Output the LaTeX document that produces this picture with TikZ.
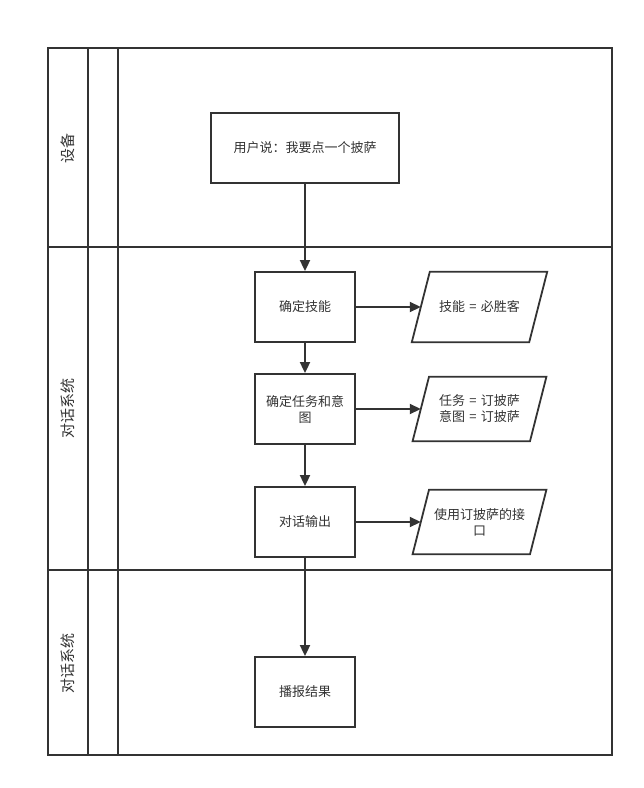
\documentclass[tikz,border=0pt]{standalone}
\usepackage{fontspec}
\setmainfont{Noto Sans CJK SC}
\usetikzlibrary{arrows.meta,calc}
\definecolor{ink}{HTML}{333333}
\tikzset{
  lane/.style={draw=ink,line width=1.8pt},
  lanelabel/.style={rotate=90,text=ink,font=\fontsize{15}{17}\selectfont},
  procbox/.style={draw=ink,line width=1.8pt,minimum width=100pt,minimum height=70pt,inner sep=2pt,text=ink,align=center,text width=94pt,font=\fontsize{13}{16}\selectfont},
  databox/.style={minimum width=117pt,minimum height=70pt,inner sep=2pt,text=ink,align=center,text width=100pt,font=\fontsize{13}{16}\selectfont},
  paraline/.style={draw=ink,line width=1.8pt},
  flow/.style={draw=ink,line width=1.8pt,-{Triangle[length=11pt,width=10pt]}}
}
\begin{document}
\begin{tikzpicture}[x=1pt,y=-1pt]
\useasboundingbox (0,0) rectangle (644,788);
% lanes
\draw[lane] (48,48) rectangle (612,755);
\draw[lane] (88,48) -- (88,755);
\draw[lane] (118,48) -- (118,755);
\draw[lane] (48,247) -- (612,247);
\draw[lane] (48,570) -- (612,570);
\node[lanelabel] (l1) at (68,148) {设备};
\node[lanelabel] (l2) at (68,408) {对话系统};
\node[lanelabel] (l3) at (68,663) {对话系统};
% boxes
\node[procbox,minimum width=188pt,text width=180pt] (b1) at (305,148) {用户说：我要点一个披萨};
\node[procbox] (b2) at (305,307) {确定技能};
\node[procbox] (b3) at (305,409) {确定任务和意\\图};
\node[procbox] (b4) at (305,522) {对话输出};
\node[procbox] (b5) at (305,692) {播报结果};
% data
\node[databox] (p1) at (479.5,307) {技能 = 必胜客};
\node[databox,minimum height=64pt] (p2) at (479.5,409) {任务 = 订披萨\\意图 = 订披萨};
\node[databox,minimum height=64pt] (p3) at (479.5,522) {使用订披萨的接\\口};
\foreach \p/\s in {p1/9,p2/8.2,p3/8.2}{
  \draw[paraline] ($(\p.north west)+(\s,0)$) -- ($(\p.north east)+(\s,0)$) -- ($(\p.south east)+(-\s,0)$) -- ($(\p.south west)+(-\s,0)$) -- cycle;
}
% flows
\draw[flow] (b1) -- (b2);
\draw[flow] (b2) -- (b3);
\draw[flow] (b3) -- (b4);
\draw[flow] (b4) -- (b5);
\draw[flow] (b2) -- (p1.west);
\draw[flow] (b3) -- (p2.west);
\draw[flow] (b4) -- (p3.west);
\end{tikzpicture}
\end{document}
